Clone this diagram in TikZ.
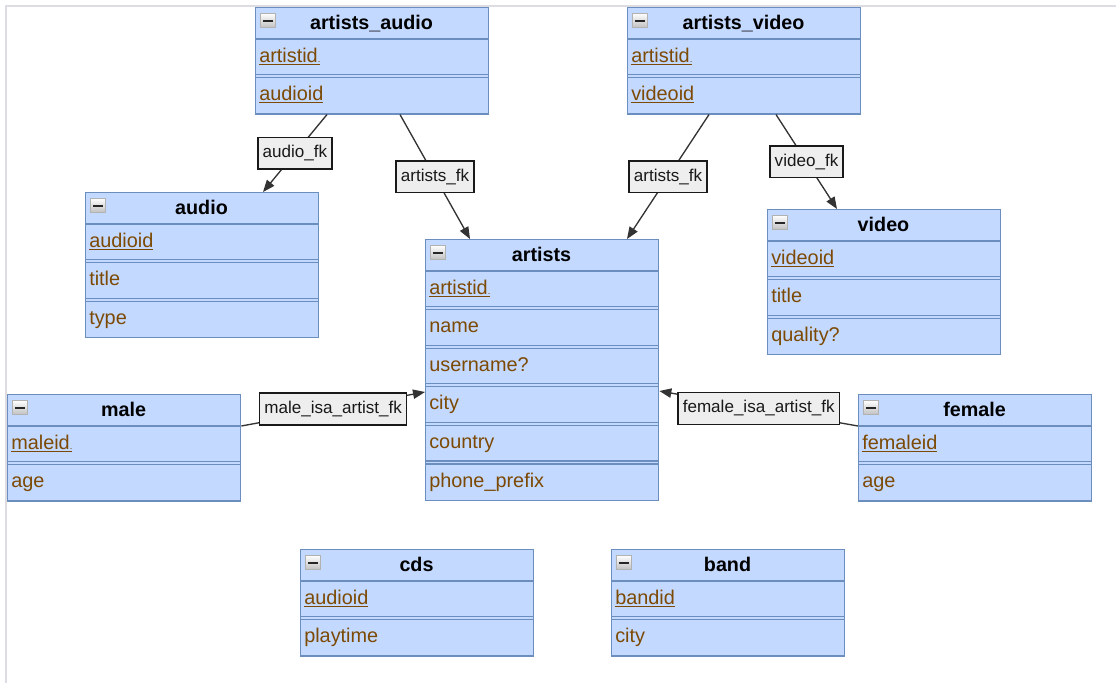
\documentclass[tikz,border=0pt]{standalone}
\usepackage{fontspec}
\setmainfont{Liberation Sans}
\usetikzlibrary{arrows.meta,calc}
\definecolor{tabfill}{RGB}{196,217,255}
\definecolor{tabline}{RGB}{108,142,191}
\definecolor{fieldbrown}{RGB}{124,74,4}
\definecolor{lblfill}{RGB}{238,238,238}
\definecolor{edgecol}{RGB}{51,51,51}
\definecolor{framecol}{RGB}{220,220,226}

\newlength\pklen
\newcommand\pk[1]{\settowidth\pklen{#1}\rlap{\rule[-2pt]{\pklen}{0.8pt}}#1}
\newcommand\tdot{{\fontsize{7}{7}\selectfont.}}

\def\HH{32}\def\RR{35.6}\def\GG{3}\def\TW{233}

\tikzset{
  tabbox/.style={draw=tabline, fill=tabfill, line width=1pt, anchor=north west,
    inner sep=0pt, minimum width=174.75pt},
  tabsep/.style={draw=tabline, line width=1pt},
  headtext/.style={anchor=base, inner sep=0pt, font=\fontsize{14.8}{17}\selectfont\bfseries},
  fieldtext/.style={anchor=base west, inner sep=0pt, text=fieldbrown, font=\fontsize{14.9}{17}\selectfont},
  iconbox/.style={draw=gray!60, top color=white, bottom color=gray!50, inner sep=0pt,
    minimum width=11.5pt, minimum height=10.8pt, line width=0.4pt},
  fk/.style={draw=edgecol, line width=1pt, -{Triangle[length=9pt,width=7pt]}},
  fklabel/.style={draw=black!90, fill=lblfill, line width=1.1pt, inner xsep=3.5pt, inner ysep=0pt,
    minimum height=23.8pt, font=\fontsize{12.8}{15}\selectfont, text=black!90},
}

\newcommand\erdtab[5]{%
  \foreach \f [count=\i] in {#5} {\xdef\nrows{\i}}%
  \pgfmathsetmacro\tabh{\HH+\nrows*\RR+(\nrows-1)*\GG}%
  \node[tabbox, minimum height=\tabh*0.75pt] (#1) at (#2,#3) {};
  \node[headtext] (#1-h) at (#2+\TW/2, #3+22.5) {#4};
  \node[iconbox] (#1-icon) at (#2+13,#3+13.5) {};
  \draw[black!85, line width=1.9pt] (#2+8.3,#3+14) -- (#2+17.7,#3+14);
  \draw[tabsep] (#2,#3+\HH) -- ++(\TW,0);
  \foreach \f [count=\i] in {#5} {
    \pgfmathsetmacro\rtop{#3+\HH+(\i-1)*(\RR+\GG)}
    \node[fieldtext] (#1-\i) at (#2+4, \rtop+23) {\f};
    \ifnum\i>1 \draw[tabsep] (#2,\rtop-\GG) -- ++(\TW,0) (#2,\rtop) -- ++(\TW,0);\fi
  }
}

\begin{document}
\begin{tikzpicture}[x=0.75pt,y=-0.75pt]
\useasboundingbox (0,0) rectangle (1116,683);
\fill[white] (0,0) rectangle (1116,683);
\draw[framecol, line width=1pt] (6,683) -- (6,6) -- (1116,6);

\erdtab{aa}{255}{7}{artists\_audio}{{\pk{artistid\tdot}},{\pk{audioid}}}
\erdtab{av}{627}{7}{artists\_video}{{\pk{artistid\tdot}},{\pk{videoid}}}
\erdtab{audio}{85}{192}{audio}{{\pk{audioid}},title,type}
\erdtab{video}{767}{209}{video}{{\pk{videoid}},title,quality?}
\erdtab{artists}{425}{239}{artists}{{\pk{artistid\tdot}},name,username?,city,country,phone\_prefix}
\erdtab{male}{7}{394}{male}{{\pk{maleid\tdot}},age}
\erdtab{female}{858}{394}{female}{{\pk{femaleid}},age}
\erdtab{cds}{300}{549}{cds}{{\pk{audioid}},playtime}
\erdtab{band}{611}{549}{band}{{\pk{bandid}},city}

\coordinate (e1s) at ($(aa.south west)+(72,0)$);
\coordinate (e1t) at ($(audio.north west)+(178,0)$);
\coordinate (e2s) at ($(aa.south west)+(145,0)$);
\coordinate (e2t) at ($(artists.north west)+(45,0)$);
\coordinate (e3s) at ($(av.south west)+(82,0)$);
\coordinate (e3t) at ($(artists.north west)+(202,0)$);
\coordinate (e4s) at ($(av.south west)+(149,0)$);
\coordinate (e4t) at ($(video.north west)+(70,0)$);
\coordinate (e5s) at ($(male.north east)+(0,32)$);
\coordinate (e5t) at ($(artists.north west)+(0,153)$);
\coordinate (e6s) at ($(female.north west)+(0,32)$);
\coordinate (e6t) at ($(artists.north east)+(0,152)$);

\draw[fk] (e1s) -- node[fklabel] (l1) {audio\_fk} (e1t);
\draw[fk] (e2s) -- node[fklabel] (l2) {artists\_fk} (e2t);
\draw[fk] (e3s) -- node[fklabel] (l3) {artists\_fk} (e3t);
\draw[fk] (e4s) -- node[fklabel] (l4) {video\_fk} (e4t);
\draw[fk] (e5s) -- node[fklabel] (l5) {male\_isa\_artist\_fk} (e5t);
\draw[fk] (e6s) -- node[fklabel] (l6) {female\_isa\_artist\_fk} (e6t);
\end{tikzpicture}
\end{document}
